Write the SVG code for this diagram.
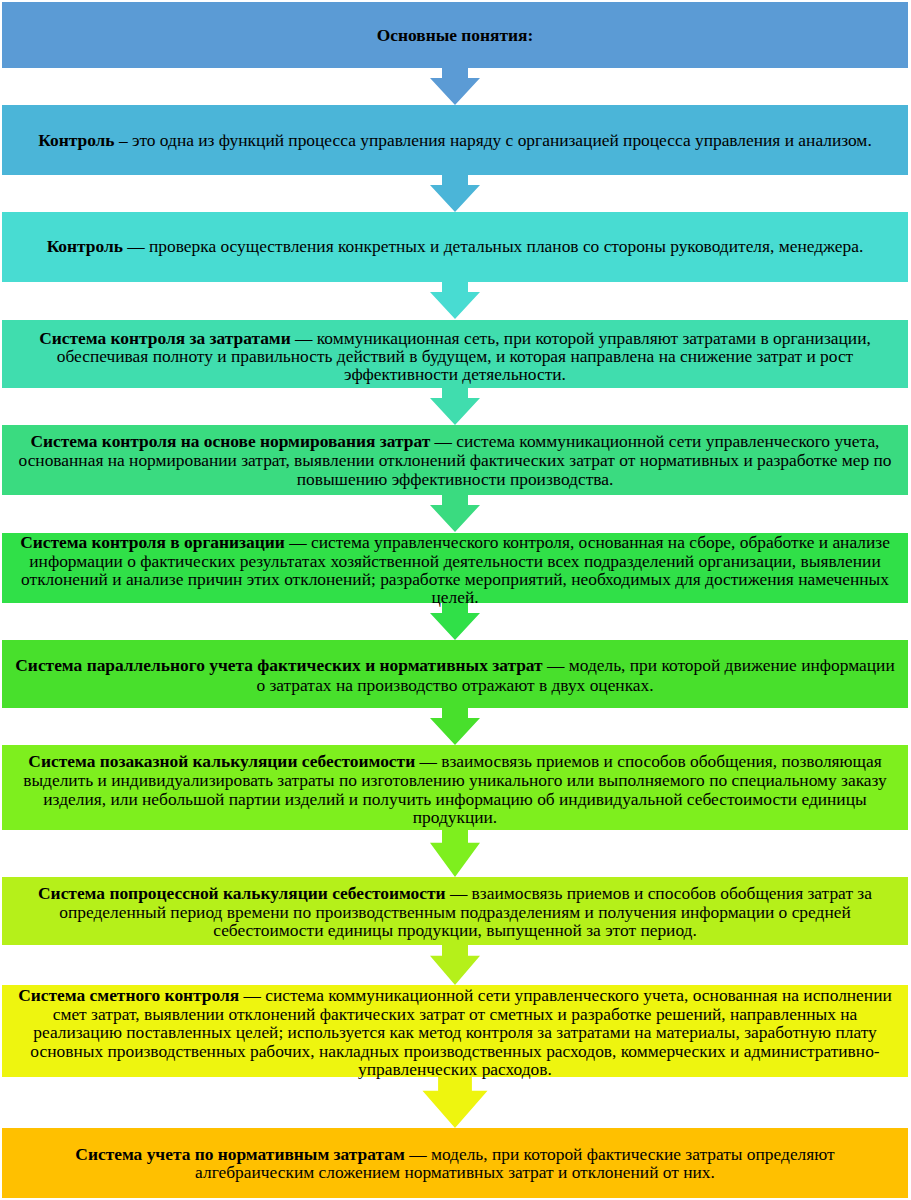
<svg xmlns="http://www.w3.org/2000/svg" width="911" height="1200" viewBox="0 0 911 1200">
<style>
text{font-family:"Liberation Serif","Times New Roman",serif;font-size:17.4px;fill:#000;text-anchor:middle}
.b{font-weight:bold}
</style>
<defs>
<path id="arr" d="M-13,0 H13 V10 H25 L0,37 L-25,10 H-13 Z"/>
</defs>
<rect width="911" height="1200" fill="#fff"/>
<g id="connectors">
<use href="#arr" x="455" y="68" fill="#5B9BD5"/>
<use href="#arr" x="455" y="175" fill="#4BB5D8"/>
<use href="#arr" x="455" y="282" fill="#48DCD2"/>
<use href="#arr" x="455" y="388" fill="#40DDAE"/>
<use href="#arr" x="455" y="495" fill="#3ADB80"/>
<use href="#arr" x="455" y="603" fill="#30E048"/>
<use href="#arr" x="455" y="708" fill="#48E02C"/>
<use href="#arr" x="455" y="830" fill="#7EEF1E" transform="translate(455 830) scale(1 1.27) translate(-455 -830)"/>
<use href="#arr" x="455" y="945" fill="#B5F01A" transform="translate(455 945) scale(1 1.08) translate(-455 -945)"/>
<use href="#arr" x="455" y="1077" fill="#EEF50F" transform="translate(455 1077) scale(1.3 1.38) translate(-455 -1077)"/>
</g>
<g id="n1"><rect x="2" y="2" width="906" height="66" fill="#5B9BD5"/><text x="455" y="41" class="b">Основные понятия:</text></g>
<g id="n2"><rect x="2" y="105" width="906" height="70" fill="#4BB5D8"/><text x="455" y="146"><tspan class="b">Контроль</tspan> – это одна из функций процесса управления наряду с организацией процесса управления и анализом.</text></g>
<g id="n3"><rect x="2" y="212" width="906" height="70" fill="#48DCD2"/><text x="455" y="252"><tspan class="b">Контроль</tspan> — проверка осуществления конкретных и детальных планов со стороны руководителя, менеджера.</text></g>
<g id="n4"><rect x="2" y="320" width="906" height="68" fill="#40DDAE"/>
<text x="455" y="344"><tspan class="b">Система контроля за затратами</tspan> — коммуникационная сеть, при которой управляют затратами в организации,</text>
<text x="455" y="362">обеспечивая полноту и правильность действий в будущем, и которая направлена на снижение затрат и рост</text>
<text x="455" y="380">эффективности детяельности.</text></g>
<g id="n5"><rect x="2" y="425" width="906" height="70" fill="#3ADB80"/>
<text x="455" y="447"><tspan class="b">Система контроля на основе нормирования затрат</tspan> — система коммуникационной сети управленческого учета,</text>
<text x="455" y="466">основанная на нормировании затрат, выявлении отклонений фактических затрат от нормативных и разработке мер по</text>
<text x="455" y="485">повышению эффективности производства.</text></g>
<g id="n6"><rect x="2" y="533" width="906" height="70" fill="#30E048"/>
<text x="455" y="548"><tspan class="b">Система контроля в организации</tspan> — система управленческого контроля, основанная на сборе, обработке и анализе</text>
<text x="455" y="567">информации о фактических результатах хозяйственной деятельности всех подразделений организации, выявлении</text>
<text x="455" y="585">отклонений и анализе причин этих отклонений; разработке мероприятий, необходимых для достижения намеченных</text>
<text x="455" y="603">целей.</text></g>
<g id="n7"><rect x="2" y="640" width="906" height="68" fill="#48E02C"/>
<text x="455" y="671"><tspan class="b">Система параллельного учета фактических и нормативных затрат</tspan> — модель, при которой движение информации</text>
<text x="455" y="691">о затратах на производство отражают в двух оценках.</text></g>
<g id="n8"><rect x="2" y="745" width="906" height="85" fill="#7EEF1E"/>
<text x="455" y="767"><tspan class="b">Система позаказной калькуляции себестоимости</tspan> — взаимосвязь приемов и способов обобщения, позволяющая</text>
<text x="455" y="786">выделить и индивидуализировать затраты по изготовлению уникального или выполняемого по специальному заказу</text>
<text x="455" y="805">изделия, или небольшой партии изделий и получить информацию об индивидуальной себестоимости единицы</text>
<text x="455" y="823">продукции.</text></g>
<g id="n9"><rect x="2" y="877" width="906" height="68" fill="#B5F01A"/>
<text x="455" y="899"><tspan class="b">Система попроцессной калькуляции себестоимости</tspan> — взаимосвязь приемов и способов обобщения затрат за</text>
<text x="455" y="918">определенный период времени по производственным подразделениям и получения информации о средней</text>
<text x="455" y="936">себестоимости единицы продукции, выпущенной за этот период.</text></g>
<g id="n10"><rect x="2" y="985" width="906" height="92" fill="#EEF50F"/>
<text x="455" y="1001"><tspan class="b">Система сметного контроля</tspan> — система коммуникационной сети управленческого учета, основанная на исполнении</text>
<text x="455" y="1019.5">смет затрат, выявлении отклонений фактических затрат от сметных и разработке решений, направленных на</text>
<text x="455" y="1038">реализацию поставленных целей; используется как метод контроля за затратами на материалы, заработную плату</text>
<text x="455" y="1056.5">основных производственных рабочих, накладных производственных расходов, коммерческих и административно-</text>
<text x="455" y="1075">управленческих расходов.</text></g>
<g id="n11"><rect x="2" y="1128" width="906" height="70" fill="#FFC000"/>
<text x="455" y="1160"><tspan class="b">Система учета по нормативным затратам</tspan> — модель, при которой фактические затраты определяют</text>
<text x="455" y="1178">алгебраическим сложением нормативных затрат и отклонений от них.</text></g>
</svg>
